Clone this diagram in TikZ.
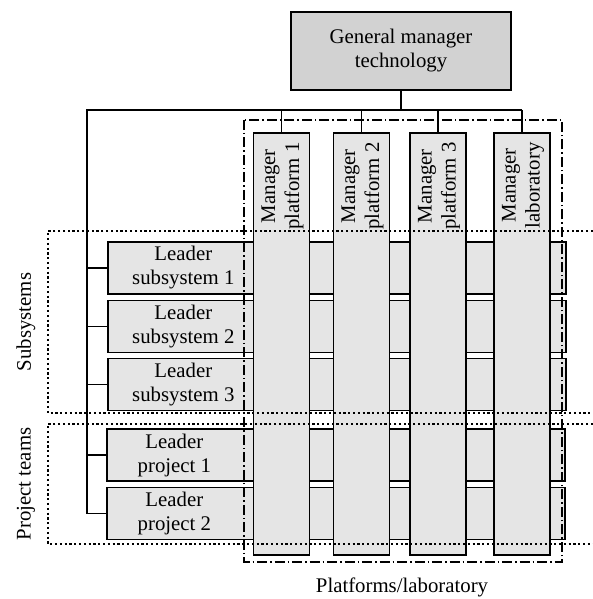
\documentclass[tikz,border=0pt]{standalone}
\usepackage{fontspec}
\setmainfont{Liberation Serif}
\usetikzlibrary{positioning}

\begin{document}
\begin{tikzpicture}[x=1pt,y=1pt,node distance=5pt,
    every node/.style={font=\fontsize{20.8}{24}\selectfont},
    gm node/.style={draw,line width=1.3pt,fill=gray!35,minimum width=220pt,minimum height=78pt,align=center},
    lead node/.style={draw,line width=1.3pt,fill=gray!20,minimum width=458pt,minimum height=52pt,inner sep=0pt},
    plat node/.style={draw,line width=1.3pt,fill=gray!20,minimum width=56pt,minimum height=422pt,inner sep=0pt},
    rot text/.style={rotate=90,anchor=east,align=center,inner sep=0pt},
    lead text/.style={align=center,inner sep=0pt},
    conn/.style={line width=1.2pt},
    group box/.style={line width=1.3pt,dash pattern=on 2.2pt off 2.6pt},
    plat box/.style={line width=1.2pt,dash pattern=on 10pt off 3pt on 1.5pt off 3pt}]

  \useasboundingbox (0,0) rectangle (593,599);

  % leaders (drawn first, platforms lie over them)
  \node[lead node] (ls1) at (337,331) {};
  \node[lead node] (ls2) [below=of ls1] {};
  \node[lead node] (ls3) [below=of ls2] {};
  \node[lead node] (lp1) at (336,144) {};
  \node[lead node] (lp2) [below=of lp1] {};

  \node[lead text] (ts1) at ([xshift=76pt]ls1.west) {Leader\\subsystem 1};
  \node[lead text] (ts2) at ([xshift=76pt]ls2.west) {Leader\\subsystem 2};
  \node[lead text] (ts3) at ([xshift=76pt]ls3.west) {Leader\\subsystem 3};
  \node[lead text] (tp1) at ([xshift=68pt]lp1.west) {Leader\\project 1};
  \node[lead text] (tp2) at ([xshift=68pt]lp2.west) {Leader\\project 2};

  % platforms
  \node[plat node] (p1) at (281.5,255) {};
  \node[plat node] (p2) at (361.5,255) {};
  \node[plat node] (p3) at (438,255) {};
  \node[plat node] (p4) at (522,255) {};

  \node[rot text] (tm1) at ([xshift=1pt,yshift=-10pt]p1.north) {Manager\\platform 1};
  \node[rot text] (tm2) at ([xshift=1pt,yshift=-10pt]p2.north) {Manager\\platform 2};
  \node[rot text] (tm3) at ([xshift=1pt,yshift=-10pt]p3.north) {Manager\\platform 3};
  \node[rot text] (tm4) at ([xshift=1pt,yshift=-10pt]p4.north) {Manager\\laboratory};

  % general manager
  \node[gm node] (gm) at (401,548) {General manager\\technology};

  % connectors
  \coordinate (busl) at (87,489);
  \coordinate (busr) at (p4.north |- busl);
  \draw[conn] (gm.south) -- (gm.south |- busl);
  \draw[conn] (busr) -- (busl) |- (lp2.west);
  \foreach \n in {p1,p2,p3,p4}
    \draw[conn] (\n.north |- busl) -- (\n.north);
  \foreach \n in {ls1,ls2,ls3,lp1}
    \draw[conn] (\n.west -| busl) -- (\n.west);

  % groups
  \draw[group box] (593,368) -| (48,186) -- (593,186);
  \draw[group box] (593,175) -| (48,55) -- (593,55);
  \draw[plat box] (244,479) rectangle (562,37);

  \node[rotate=90] (lsub) at (26,277) {Subsystems};
  \node[rotate=90] (lproj) at (26,115) {Project teams};
  \node[anchor=base] (lplat) at (402,6) {Platforms/laboratory};
\end{tikzpicture}
\end{document}
